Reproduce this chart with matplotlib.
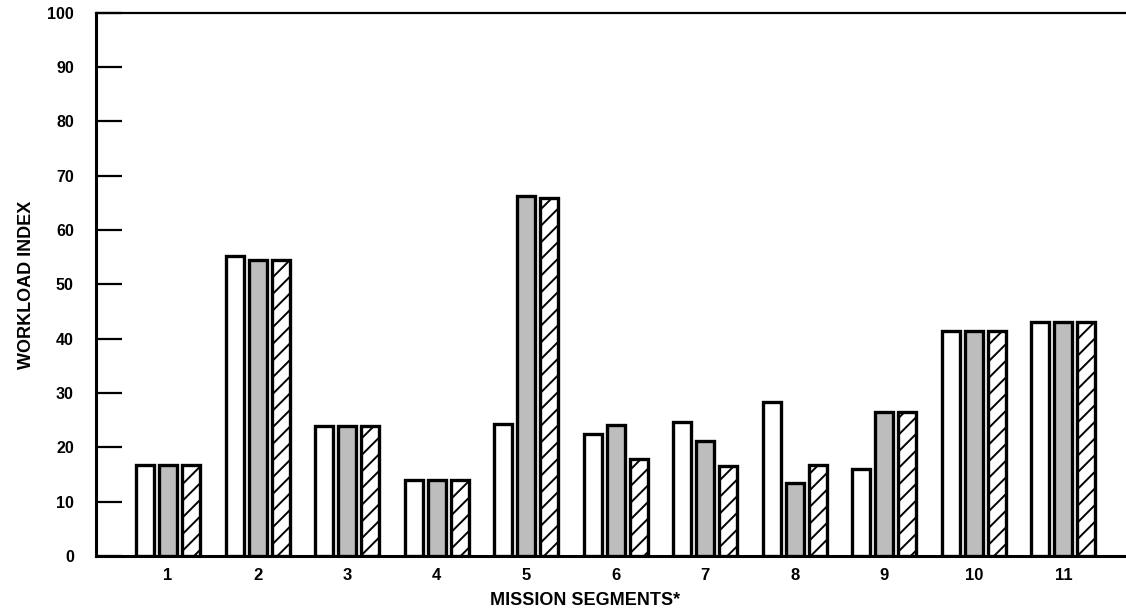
import matplotlib
matplotlib.use('Agg')
import matplotlib.pyplot as plt
import numpy as np

segments = ['1', '2', '3', '4', '5', '6', '7', '8', '9', '10', '11']
series_a = [16.8, 55.2, 24.0, 14.0, 24.3, 22.5, 24.6, 28.4, 16.0, 41.5, 43.0]
series_b = [16.8, 54.5, 24.0, 14.0, 66.3, 24.2, 21.2, 13.5, 26.6, 41.5, 43.0]
series_c = [16.8, 54.5, 24.0, 14.0, 66.0, 17.8, 16.6, 16.8, 26.6, 41.5, 43.0]
y_ticks = [0, 10, 20, 30, 40, 50, 60, 70, 80, 90, 100]

plt.rcParams['font.family'] = ['Liberation Sans', 'DejaVu Sans']
plt.rcParams['hatch.linewidth'] = 1.4

fig = plt.figure(figsize=(11.26, 6.13), dpi=100)
ax = fig.add_axes([0.0853, 0.093, 0.9147, 0.886])

x = np.arange(1, len(segments) + 1)
w = 0.2
step = 0.257
lw = 2.4
ax.bar(x - step, series_a, w, facecolor='white', edgecolor='black', linewidth=lw, zorder=3)
ax.bar(x, series_b, w, facecolor='#bdbdbd', edgecolor='black', linewidth=lw, zorder=3)
ax.bar(x + step, series_c, w, facecolor='white', edgecolor='black', linewidth=lw, hatch='//', zorder=3)

ax.set_xlim(0.196, 11.70)
ax.set_ylim(0, 100)
ax.set_xticks(x)
ax.set_xticklabels(segments, fontsize=12, fontweight='bold')
ax.set_yticks(y_ticks)
ax.set_yticklabels([str(v) for v in y_ticks], fontsize=11.5, fontweight='bold')
ax.tick_params(axis='x', length=0, pad=9)
ax.tick_params(axis='y', direction='in', length=19, width=1.6, pad=16)

ax.spines['right'].set_visible(False)
ax.spines['left'].set_linewidth(2.2)
ax.spines['bottom'].set_linewidth(2.2)
ax.spines['top'].set_linewidth(1.6)

ax.set_ylabel('WORKLOAD INDEX', fontsize=13, fontweight='bold')
ax.yaxis.set_label_coords(-0.059, 0.5)
ax.set_xlabel('MISSION SEGMENTS*', fontsize=13, fontweight='bold')
ax.xaxis.set_label_coords(0.475, -0.066)

fig.savefig('out.png', dpi=100)
